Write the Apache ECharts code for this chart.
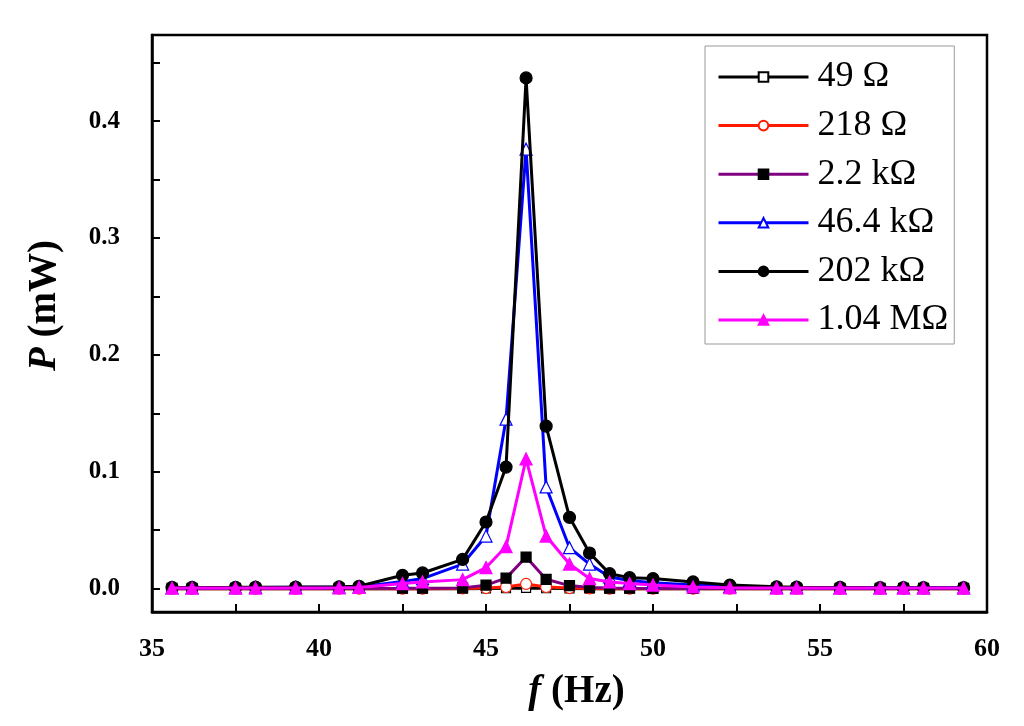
<!DOCTYPE html>
<html>
<head>
<meta charset="utf-8">
<script src="https://cdn.jsdelivr.net/npm/echarts@6/dist/echarts.min.js"></script>
<style>
html,body{margin:0;padding:0;background:#fff;}
#c{width:1024px;height:726px;}
</style>
</head>
<body>
<div id="c"></div>
<script>
// ---- data ----
var freq = [35.6, 36.2, 37.5, 38.1, 39.3, 40.6, 41.2, 42.5, 43.1, 44.3, 45.0, 45.6, 46.2, 46.8, 47.5, 48.1, 48.7, 49.3, 50.0, 51.2, 52.3, 53.7, 54.3, 55.6, 56.8, 57.5, 58.1, 59.3];
var p49 = [0, 0, 0, 0, 0, 0, 0, 0, 0, 0, 0.0001, 0.0003, 0.0006, 0.0003, 0.0001, 0, 0, 0, 0, 0, 0, 0, 0, 0, 0, 0, 0, 0];
var p218 = [0, 0, 0, 0, 0, 0, 0, 0, 0, 0.0002, 0.0005, 0.0014, 0.004, 0.0014, 0.0005, 0.0002, 0, 0, 0, 0, 0, 0, 0, 0, 0, 0, 0, 0];
var p2k2 = [0.0002, 0.0002, 0.0002, 0.0002, 0.0002, 0.0002, 0.0002, 0.0003, 0.0004, 0.0006, 0.003, 0.009, 0.027, 0.008, 0.0026, 0.001, 0.0005, 0.0003, 0.0002, 0.0002, 0.0002, 0.0002, 0.0002, 0.0002, 0.0002, 0.0002, 0.0002, 0.0002];
var p46k4 = [0.0008, 0.0008, 0.0009, 0.001, 0.0011, 0.0012, 0.0015, 0.006, 0.0086, 0.021, 0.045, 0.145, 0.376, 0.087, 0.035, 0.021, 0.01, 0.007, 0.005, 0.003, 0.002, 0.001, 0.001, 0.0008, 0.0008, 0.0008, 0.0008, 0.0008];
var p202k = [0.001, 0.001, 0.0011, 0.0012, 0.0013, 0.0015, 0.002, 0.0114, 0.0134, 0.025, 0.057, 0.104, 0.437, 0.139, 0.061, 0.0305, 0.0128, 0.0094, 0.0086, 0.0057, 0.003, 0.0015, 0.0012, 0.001, 0.0008, 0.0008, 0.0008, 0.0008];
var p1M04 = [0.0005, 0.0005, 0.0005, 0.0005, 0.0005, 0.0007, 0.001, 0.0043, 0.0057, 0.0077, 0.018, 0.036, 0.111, 0.045, 0.021, 0.0086, 0.0057, 0.0043, 0.003, 0.0014, 0.0008, 0.0005, 0.0005, 0.0005, 0.0005, 0.0005, 0.0005, 0.0005];
var seriesNames = ['49 Ω', '218 Ω', '2.2 kΩ', '46.4 kΩ', '202 kΩ', '1.04 MΩ'];
var xTicks = [35, 37.5, 40, 42.5, 45, 47.5, 50, 52.5, 55, 57.5, 60];
var xLabels = [35, 40, 45, 50, 55, 60];
var yTicks = [0, 0.05, 0.1, 0.15, 0.2, 0.25, 0.3, 0.35, 0.4, 0.45];
var yLabels = [0, 0.1, 0.2, 0.3, 0.4];

function pairs(v){ return freq.map(function(f,i){ return [f, v[i]]; }); }

var styles = [
  {line:'#000000', symbol:'rect', fill:'#ffffff', border:'#000000', size:9},
  {line:'#ff1a00', symbol:'circle', fill:'#ffffff', border:'#ff1a00', size:11},
  {line:'#800080', symbol:'rect', fill:'#000000', border:'#000000', size:10},
  {line:'#0000ff', symbol:'triangle', fill:'#ffffff', border:'#0000ff', size:12},
  {line:'#000000', symbol:'circle', fill:'#000000', border:'#000000', size:12},
  {line:'#ff00ff', symbol:'triangle', fill:'#ff00ff', border:'#ff00ff', size:12}
];
var vals = [p49, p218, p2k2, p46k4, p202k, p1M04];

var series = vals.map(function(v, k){
  var s = styles[k];
  return {
    name: seriesNames[k], type:'line', data: pairs(v),
    symbol: s.symbol, symbolSize: s.size, showAllSymbol: true,
    lineStyle:{color:s.line, width:3},
    itemStyle:{color:s.fill, borderColor:s.border, borderWidth:1.2},
    emphasis:{disabled:true}, animation:false, clip:false, z: 2 + k
  };
});

var nameRich = {
  i:{fontFamily:'Liberation Serif', fontStyle:'italic', fontWeight:'bold', fontSize:39, color:'#000'},
  b:{fontFamily:'Liberation Serif', fontWeight:'bold', fontSize:39, color:'#000'}
};

var chart = echarts.init(document.getElementById('c'));
chart.setOption({
  backgroundColor:'#fff',
  animation:false,
  textStyle:{fontFamily:'Liberation Serif'},
  grid:{left:152, top:35, right:37, bottom:114, show:true, borderColor:'#000', borderWidth:2.5, backgroundColor:'transparent'},
  legend:{
    orient:'vertical', left:705, top:46,
    data: seriesNames,
    itemWidth:90, itemHeight:12, itemGap:12.6,
    padding:[13, 6, 6, 12],
    borderColor:'#999', borderWidth:1, backgroundColor:'#fff',
    lineStyle:{width:3},
    textStyle:{fontFamily:'Liberation Serif', fontSize:36, color:'#000', lineHeight:36, padding:[0,0,0,4]}
  },
  xAxis:{
    type:'value', min:35, max:60, interval:2.5,
    name:'{i|f}{b| (Hz)}', nameLocation:'middle', nameGap:60,
    nameTextStyle:{rich:nameRich, padding:[0,0,0,14]},
    axisLine:{show:true, onZero:false, lineStyle:{color:'#000', width:2.5}},
    axisTick:{show:true, inside:true, length:8, lineStyle:{color:'#000', width:2}, customValues: xTicks},
    axisLabel:{customValues: xLabels, margin:24, fontFamily:'Liberation Serif', fontWeight:'bold', fontSize:26, color:'#000'},
    splitLine:{show:false}
  },
  yAxis:{
    type:'value', min:-0.02, max:0.4737,
    name:'{i|P}{b| (mW)}', nameLocation:'middle', nameGap:88, nameRotate:90,
    nameTextStyle:{rich:nameRich, padding:[0,0,0,36]},
    axisLine:{show:true, onZero:false, lineStyle:{color:'#000', width:2.5}},
    axisTick:{show:true, inside:true, length:8, lineStyle:{color:'#000', width:2}, customValues: yTicks},
    axisLabel:{customValues: yLabels, margin:32, fontFamily:'Liberation Serif', fontWeight:'bold', fontSize:25, color:'#000',
      formatter:function(v){ return v.toFixed(1); }},
    splitLine:{show:false}
  },
  series: series
});
</script>
</body>
</html>
